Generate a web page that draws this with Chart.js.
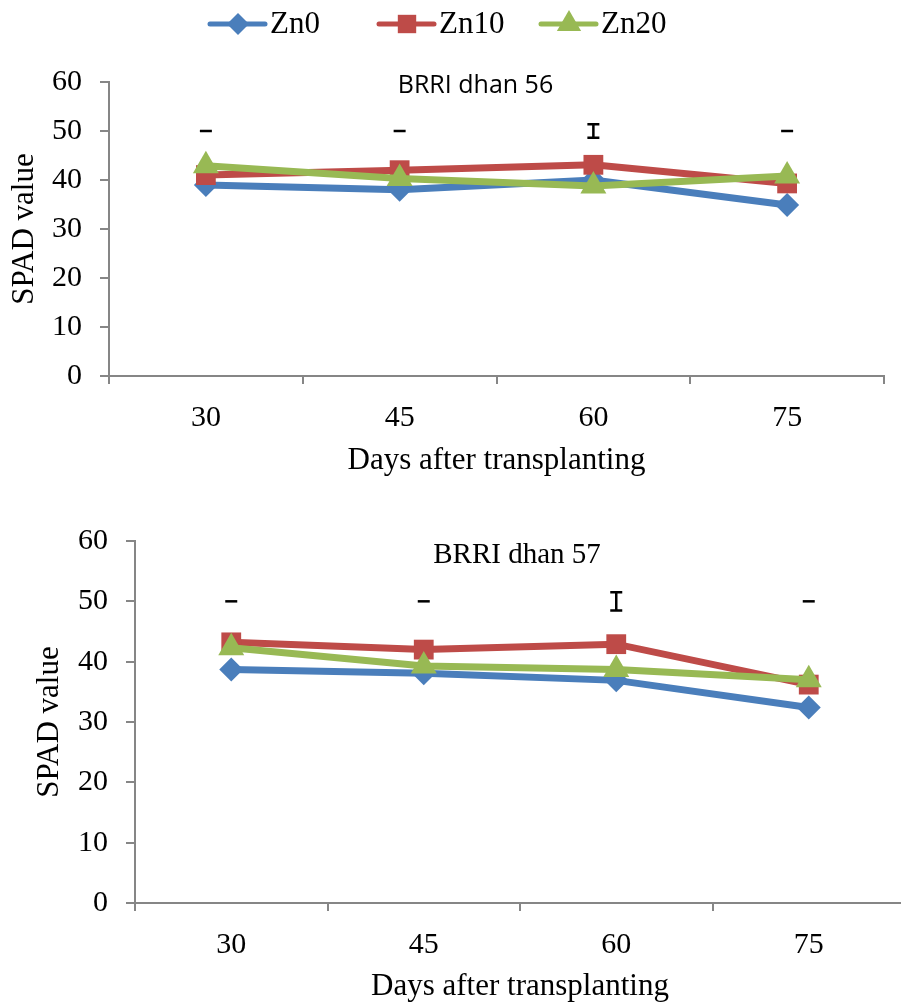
<!DOCTYPE html>
<html lang="en">
<head>
    <meta charset="UTF-8">
    <title>SPAD value - BRRI dhan 56 / 57</title>
    <script src="https://cdn.jsdelivr.net/npm/chart.js"></script>
    <style>
        body { margin: 0; background: #fff; overflow: hidden; }
        .wrap { position: absolute; left: 0; width: 901px; overflow: hidden; }
    </style>
</head>
<body>
<div class="wrap" style="top:0; height:490px;">
    <canvas id="chart56" width="901" height="490"></canvas>
</div>
<div class="wrap" style="top:500px; height:505px;">
    <canvas id="chart57" width="920" height="505"></canvas>
</div>

<script>
    // data
    const days = ['30', '45', '60', '75'];

    const zn0_56 = [39.0, 38.0, 40.0, 34.9];
    const zn10_56 = [41.0, 42.0, 43.1, 39.3];
    const zn20_56 = [42.9, 40.3, 38.8, 40.8];
    const err_56 = [0, 0, 1.4, 0];

    const zn0_57 = [38.7, 38.1, 36.9, 32.4];
    const zn10_57 = [43.2, 42.0, 42.9, 36.2];
    const zn20_57 = [42.3, 39.3, 38.7, 37.0];
    const err_57 = [0, 0, 1.5, 0];

    const errLevel = 50;
    const seriesNames = ['Zn0', 'Zn10', 'Zn20'];
    const colors = ['#4A7EBB', '#BE4B48', '#98B954'];
    const markers = ['rectRot', 'rect', 'triangle'];
    const markerSize = [12, 14, 15];

    const serif = '"Liberation Serif", "Times New Roman", serif';
    const axisGray = '#868686';

    function makeDatasets(values) {
        return values.map((v, i) => ({
            label: seriesNames[i],
            data: v,
            borderColor: colors[i],
            backgroundColor: colors[i],
            borderWidth: 7,
            pointStyle: markers[i],
            pointRadius: markerSize[i],
            pointBorderWidth: 0,
            tension: 0,
            order: values.length - 1 - i   // later series on top, like Excel
        }));
    }

    // small LSD style error bars at y = 50
    const errorBars = {
        id: 'errorBars',
        afterDatasetsDraw(chart, args, opts) {
            const { ctx, scales: { x, y } } = chart;
            ctx.save();
            ctx.strokeStyle = '#000';
            ctx.lineWidth = 2.5;
            opts.errors.forEach((e, i) => {
                const px = x.getPixelForValue(i);
                const top = y.getPixelForValue(errLevel + e);
                const bot = y.getPixelForValue(errLevel - e);
                ctx.beginPath();
                ctx.moveTo(px - 6, top); ctx.lineTo(px + 6, top);
                if (e > 0) {
                    ctx.moveTo(px, top); ctx.lineTo(px, bot);
                    ctx.moveTo(px - 6, bot); ctx.lineTo(px + 6, bot);
                }
                ctx.stroke();
            });
            ctx.restore();
        }
    };

    // in-plot title + (optional) line/marker legend
    const extras = {
        id: 'extras',
        afterDraw(chart, args, opts) {
            const { ctx, chartArea } = chart;
            ctx.save();
            ctx.fillStyle = '#000';
            ctx.textAlign = 'center';
            ctx.textBaseline = 'middle';
            ctx.font = opts.titleFont;
            ctx.fillText(opts.title, (chartArea.left + chartArea.right) / 2 + opts.titleDx, chartArea.top + opts.titleDy);

            if (opts.legend) {
                const starts = [210, 379, 541];
                const ly = 24;
                chart.data.datasets.forEach((ds, i) => {
                    const x0 = starts[i];
                    ctx.strokeStyle = ds.borderColor;
                    ctx.lineWidth = 5;
                    ctx.lineCap = 'round';
                    ctx.beginPath();
                    ctx.moveTo(x0, ly);
                    ctx.lineTo(x0 + 55, ly);
                    ctx.stroke();
                    ctx.fillStyle = ds.backgroundColor;
                    Chart.helpers.drawPoint(ctx, { pointStyle: ds.pointStyle, radius: ds.pointRadius - 1, borderWidth: 0 }, x0 + 28, ly);
                    ctx.fillStyle = '#000';
                    ctx.textAlign = 'left';
                    ctx.font = '31px ' + serif;
                    ctx.fillText(ds.label, x0 + 60, ly + 1);
                });
            }
            ctx.restore();
        }
    };

    function buildChart(id, values, errors, cfg) {
        return new Chart(document.getElementById(id).getContext('2d'), {
            type: 'line',
            data: { labels: days, datasets: makeDatasets(values) },
            options: {
                responsive: false,
                animation: false,
                devicePixelRatio: 1,
                layout: { padding: { top: cfg.padTop, right: cfg.padRight, left: 0, bottom: 0 } },
                plugins: {
                    legend: { display: false },
                    tooltip: { enabled: false },
                    errorBars: { errors: errors },
                    extras: cfg.extras
                },
                scales: {
                    x: {
                        offset: true,
                        grid: { offset: true, drawOnChartArea: false, tickLength: 8, color: axisGray, lineWidth: 2 },
                        border: { color: axisGray, width: 2 },
                        ticks: { color: '#000', font: { family: serif, size: 30 }, padding: 16 },
                        title: { display: true, text: 'Days after transplanting', color: '#000', font: { family: serif, size: 31 }, padding: { top: 0, bottom: cfg.xTitlePad } },
                        afterFit: s => { s.height = cfg.xHeight; }
                    },
                    y: {
                        min: 0, max: 60,
                        ticks: { stepSize: 10, color: '#000', font: { family: serif, size: 30 }, padding: 18 },
                        grid: { drawOnChartArea: false, tickLength: 9, color: axisGray, lineWidth: 2 },
                        border: { color: axisGray, width: 2 },
                        title: { display: true, text: 'SPAD value', color: '#000', font: { family: serif, size: 31 }, padding: { top: cfg.yTitlePad, bottom: 0 } },
                        afterFit: s => { s.width = cfg.yWidth; }
                    }
                }
            },
            plugins: [errorBars, extras]
        });
    }

    buildChart('chart56', [zn0_56, zn10_56, zn20_56], err_56, {
        padTop: 82, padRight: 17, xHeight: 114, yWidth: 109, xTitlePad: 11, yTitlePad: 6,
        extras: { title: 'BRRI dhan 56', titleFont: '25px "Open Sans", sans-serif', titleDx: -21, titleDy: 4, legend: true }
    });

    buildChart('chart57', [zn0_57, zn10_57, zn20_57], err_57, {
        padTop: 41, padRight: 9, xHeight: 102, yWidth: 135, xTitlePad: 0, yTitlePad: 31,
        extras: { title: 'BRRI dhan 57', titleFont: '29px ' + serif, titleDx: -3, titleDy: 14, legend: false }
    });
</script>
</body>
</html>
